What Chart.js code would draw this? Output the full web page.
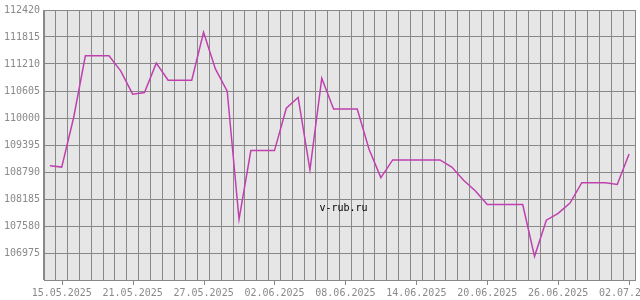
<!DOCTYPE html>
<html>
<head>
<meta charset="utf-8">
<script src="https://cdn.jsdelivr.net/npm/chart.js@4/dist/chart.umd.min.js"></script>
<style>
  html, body { margin: 0; padding: 0; background: #fff; }
</style>
</head>
<body>
<canvas id="rateChart" width="640" height="300"></canvas>
<script>
const dates = [
  '14.05.2025', '15.05.2025', '16.05.2025', '17.05.2025', '18.05.2025', '19.05.2025', '20.05.2025',
  '21.05.2025', '22.05.2025', '23.05.2025', '24.05.2025', '25.05.2025', '26.05.2025', '27.05.2025',
  '28.05.2025', '29.05.2025', '30.05.2025', '31.05.2025', '01.06.2025', '02.06.2025', '03.06.2025',
  '04.06.2025', '05.06.2025', '06.06.2025', '07.06.2025', '08.06.2025', '09.06.2025', '10.06.2025',
  '11.06.2025', '12.06.2025', '13.06.2025', '14.06.2025', '15.06.2025', '16.06.2025', '17.06.2025',
  '18.06.2025', '19.06.2025', '20.06.2025', '21.06.2025', '22.06.2025', '23.06.2025', '24.06.2025',
  '25.06.2025', '26.06.2025', '27.06.2025', '28.06.2025', '29.06.2025', '30.06.2025', '01.07.2025',
  '02.07.2025'
];

const rates = [
  108930, 108900, 110000, 111395, 111395, 111395, 111050,
  110535, 110570, 111230, 110845, 110845, 110845, 111920,
  111100, 110600, 107730, 109270, 109270, 109270, 110220,
  110460, 108840, 110890, 110200, 110200, 110200, 109300,
  108665, 109060, 109060, 109060, 109060, 109060, 108900,
  108605, 108365, 108060, 108060, 108060, 108060, 106900,
  107710, 107865, 108095, 108550, 108550, 108550, 108510,
  109195
];

const dateTicks = ['15.05.2025', '21.05.2025', '27.05.2025', '02.06.2025', '08.06.2025',
  '14.06.2025', '20.06.2025', '26.06.2025', '02.07.2025'];
const rateTicks = [106975, 107580, 108185, 108790, 109395, 110000, 110605, 111210, 111815, 112420];
const rateMin = 106370;

const gridColor = '#888888';
const labelColor = '#8a8a8a';
const monoFont = { family: "'DejaVu Sans Mono', monospace", size: 10 };

// plot background, date tick marks and the site mark
const extras = {
  id: 'extras',
  beforeDraw(chart) {
    const { ctx, chartArea: a } = chart;
    ctx.save();
    ctx.fillStyle = '#e6e6e6';
    ctx.fillRect(a.left, a.top, a.right - a.left, a.bottom - a.top);
    ctx.restore();
  },
  afterDraw(chart) {
    const { ctx, chartArea: a, scales: { x } } = chart;
    ctx.save();
    ctx.strokeStyle = gridColor;
    ctx.lineWidth = 1;
    ctx.beginPath();
    x.ticks.forEach((t, i) => {
      if (!dateTicks.includes(dates[t.value])) return;
      const px = Math.round(x.getPixelForTick(i)) + 0.5;
      ctx.moveTo(px, a.bottom);
      ctx.lineTo(px, a.bottom + 5);
    });
    ctx.stroke();
    ctx.fillStyle = '#000';
    ctx.font = "10px 'DejaVu Sans Mono'";
    ctx.textAlign = 'center';
    ctx.textBaseline = 'middle';
    ctx.fillText('v-rub.ru', (a.left + a.right) / 2 + 4, a.top + (a.bottom - a.top) * 0.735);
    ctx.restore();
  }
};

new Chart(document.getElementById('rateChart'), {
  type: 'line',
  data: {
    labels: dates,
    datasets: [{
      data: rates,
      borderColor: 'rgb(192, 64, 176)',
      borderWidth: 1.5,
      pointRadius: 0,
      tension: 0,
      fill: false
    }]
  },
  options: {
    responsive: false,
    animation: false,
    layout: { padding: { top: 5, right: 5, left: 0, bottom: 0 }, autoPadding: false },
    plugins: { legend: { display: false }, tooltip: { enabled: false } },
    scales: {
      x: {
        type: 'category',
        offset: true,
        grid: { offset: true, color: gridColor, drawTicks: false },
        border: { color: gridColor },
        ticks: {
          autoSkip: false, maxRotation: 0, minRotation: 0, padding: 7,
          color: labelColor, font: monoFont,
          callback: function (v) {
            const l = this.getLabelForValue(v);
            return dateTicks.includes(l) ? l : '';
          }
        },
        afterFit: s => { s.height = 20; s.paddingLeft = 0; s.paddingRight = 0; }
      },
      y: {
        min: rateMin,
        max: rateTicks[rateTicks.length - 1],
        afterBuildTicks: s => { s.ticks = [rateMin, ...rateTicks].map(v => ({ value: v })); },
        grid: { color: gridColor, drawTicks: false },
        border: { color: gridColor },
        ticks: {
          padding: 4, color: labelColor, font: monoFont,
          callback: v => v === rateMin ? '' : String(v)
        },
        afterFit: s => { s.width = 44; }
      }
    }
  },
  plugins: [extras]
});
</script>
</body>
</html>
